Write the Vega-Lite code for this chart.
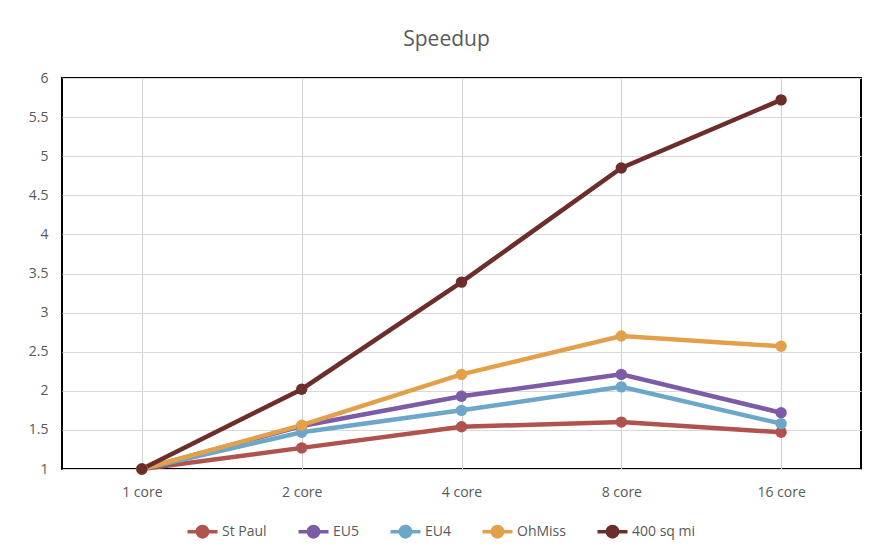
{
  "$schema": "https://vega.github.io/schema/vega-lite/v6.json",
  "autosize": {"type": "none"},
  "padding": {"left": 62, "top": 78, "right": 9, "bottom": 85},
  "width": 799,
  "height": 391,
  "background": "white",
  "title": {
    "text": "Speedup",
    "fontSize": 21,
    "font": "Open Sans",
    "fontWeight": "normal",
    "color": "#595959",
    "anchor": "middle",
    "dx": -15,
    "offset": 21
  },
  "data": {
    "values": [
      {"cores": "1 core", "series": "St Paul", "speedup": 1},
      {"cores": "2 core", "series": "St Paul", "speedup": 1.27},
      {"cores": "4 core", "series": "St Paul", "speedup": 1.54},
      {"cores": "8 core", "series": "St Paul", "speedup": 1.60},
      {"cores": "16 core", "series": "St Paul", "speedup": 1.47},
      {"cores": "1 core", "series": "EU5", "speedup": 1},
      {"cores": "2 core", "series": "EU5", "speedup": 1.55},
      {"cores": "4 core", "series": "EU5", "speedup": 1.93},
      {"cores": "8 core", "series": "EU5", "speedup": 2.21},
      {"cores": "16 core", "series": "EU5", "speedup": 1.72},
      {"cores": "1 core", "series": "EU4", "speedup": 1},
      {"cores": "2 core", "series": "EU4", "speedup": 1.47},
      {"cores": "4 core", "series": "EU4", "speedup": 1.75},
      {"cores": "8 core", "series": "EU4", "speedup": 2.05},
      {"cores": "16 core", "series": "EU4", "speedup": 1.58},
      {"cores": "1 core", "series": "OhMiss", "speedup": 1},
      {"cores": "2 core", "series": "OhMiss", "speedup": 1.56},
      {"cores": "4 core", "series": "OhMiss", "speedup": 2.21},
      {"cores": "8 core", "series": "OhMiss", "speedup": 2.70},
      {"cores": "16 core", "series": "OhMiss", "speedup": 2.57},
      {"cores": "1 core", "series": "400 sq mi", "speedup": 1},
      {"cores": "2 core", "series": "400 sq mi", "speedup": 2.02},
      {"cores": "4 core", "series": "400 sq mi", "speedup": 3.39},
      {"cores": "8 core", "series": "400 sq mi", "speedup": 4.85},
      {"cores": "16 core", "series": "400 sq mi", "speedup": 5.72}
    ]
  },
  "mark": {
    "type": "line",
    "strokeWidth": 4.5,
    "point": {"size": 130, "filled": true, "opacity": 1}
  },
  "encoding": {
    "x": {
      "field": "cores",
      "type": "ordinal",
      "sort": ["1 core", "2 core", "4 core", "8 core", "16 core"],
      "scale": {"type": "point", "padding": 0.5},
      "axis": {
        "title": null,
        "labelAngle": 0,
        "grid": true,
        "gridColor": "#d0d0d0",
        "ticks": false,
        "domain": false,
        "labelPadding": 16,
        "labelFontSize": 14,
        "labelFont": "Open Sans",
        "labelColor": "#595959"
      }
    },
    "y": {
      "field": "speedup",
      "type": "quantitative",
      "scale": {"domain": [1, 6], "nice": false, "zero": false},
      "axis": {
        "title": null,
        "values": [1, 1.5, 2, 2.5, 3, 3.5, 4, 4.5, 5, 5.5, 6],
        "format": "~g",
        "gridColor": "#d9d9d9",
        "ticks": false,
        "domain": false,
        "labelPadding": 14,
        "labelFontSize": 14,
        "labelFont": "Open Sans",
        "labelColor": "#595959"
      }
    },
    "color": {
      "field": "series",
      "type": "nominal",
      "sort": ["St Paul", "EU5", "EU4", "OhMiss", "400 sq mi"],
      "scale": {
        "domain": ["St Paul", "EU5", "EU4", "OhMiss", "400 sq mi"],
        "range": ["#B0524E", "#7D5BA6", "#6CA7C9", "#E3A04A", "#6D2D2A"]
      },
      "legend": {
        "title": null,
        "orient": "none",
        "direction": "horizontal",
        "legendX": 131,
        "legendY": 444,
        "symbolType": "M-2,0H2M-0.7,0A0.7,0.7 0 1,0 0.7,0A0.7,0.7 0 1,0 -0.7,0Z",
        "symbolSize": 225,
        "symbolStrokeWidth": 3.5,
        "symbolOpacity": 1,
        "labelFontSize": 14,
        "labelFont": "Open Sans",
        "labelColor": "#595959",
        "labelOffset": 10,
        "columnPadding": 24
      }
    }
  },
  "config": {
    "view": {"stroke": "#000000", "strokeWidth": 2}
  }
}
